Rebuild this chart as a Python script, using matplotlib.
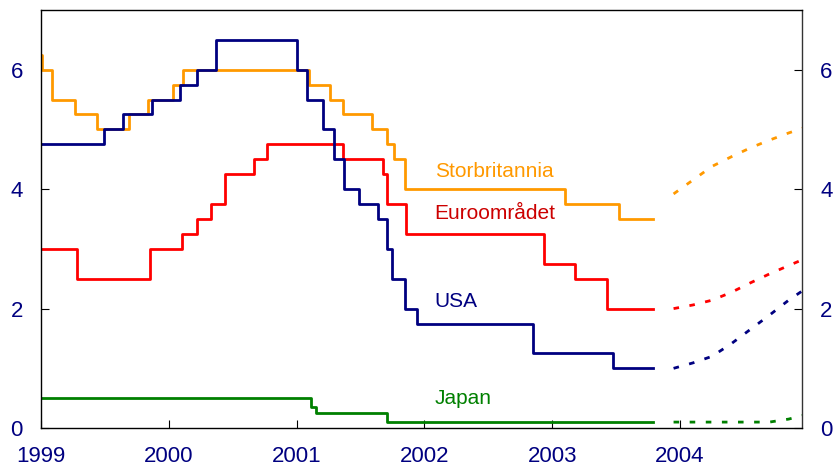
import matplotlib
matplotlib.use("Agg")
import matplotlib.pyplot as plt

# ---------------------------------------------------------------------------
# Data (decimal years, policy rates in percent)
# ---------------------------------------------------------------------------
usa_dates = [1999.0, 1999.49, 1999.64, 1999.87, 2000.09, 2000.22, 2000.37,
             2001.005, 2001.08, 2001.21, 2001.29, 2001.37, 2001.49, 2001.64,
             2001.71, 2001.75, 2001.85, 2001.94, 2002.85, 2003.48, 2003.79]
usa_rates = [4.75, 5.0, 5.25, 5.5, 5.75, 6.0, 6.5,
             6.0, 5.5, 5.0, 4.5, 4.0, 3.75, 3.5,
             3.0, 2.5, 2.0, 1.75, 1.25, 1.0, 1.0]

uk_dates = [1999.0, 1999.01, 1999.09, 1999.27, 1999.44, 1999.69, 1999.84,
            2000.03, 2000.11, 2001.10, 2001.26, 2001.36, 2001.59, 2001.71,
            2001.76, 2001.85, 2003.10, 2003.52, 2003.79]
uk_rates = [6.25, 6.0, 5.5, 5.25, 5.0, 5.25, 5.5,
            5.75, 6.0, 5.75, 5.5, 5.25, 5.0, 4.75,
            4.5, 4.0, 3.75, 3.5, 3.5]

euro_dates = [1999.0, 1999.28, 1999.85, 2000.10, 2000.22, 2000.33, 2000.44,
              2000.67, 2000.77, 2001.36, 2001.68, 2001.71, 2001.86, 2002.94,
              2003.18, 2003.43, 2003.79]
euro_rates = [3.0, 2.5, 3.0, 3.25, 3.5, 3.75, 4.25,
              4.5, 4.75, 4.5, 4.25, 3.75, 3.25, 2.75,
              2.5, 2.0, 2.0]

japan_dates = [1999.0, 2001.11, 2001.15, 2001.71, 2003.79]
japan_rates = [0.5, 0.35, 0.25, 0.1, 0.1]

# Market expectations (forward rates)
fwd_dates = [2003.95, 2004.10, 2004.25, 2004.40, 2004.55, 2004.70, 2004.85, 2004.96]
usa_fwd = [1.0, 1.09, 1.2, 1.41, 1.65, 1.89, 2.14, 2.3]
euro_fwd = [2.0, 2.06, 2.14, 2.27, 2.43, 2.58, 2.72, 2.82]
uk_fwd = [3.92, 4.15, 4.38, 4.54, 4.69, 4.82, 4.94, 5.02]
japan_fwd = [0.1, 0.1, 0.1, 0.1, 0.1, 0.1, 0.15, 0.21]

year_ticks = [1999, 2000, 2001, 2002, 2003, 2004]
rate_ticks = [0, 2, 4, 6]

NAVY = "#000080"
ORANGE = "#FF9900"
RED = "#FF0000"
GREEN = "#008000"

plt.rcParams["font.family"] = ["Liberation Sans", "DejaVu Sans"]

fig = plt.figure(figsize=(8.35, 4.73), dpi=100)
ax = fig.add_axes([0.049, 0.095, 0.9115, 0.884])

series = [
    (uk_dates, uk_rates, uk_fwd, ORANGE),
    (euro_dates, euro_rates, euro_fwd, RED),
    (usa_dates, usa_rates, usa_fwd, NAVY),
    (japan_dates, japan_rates, japan_fwd, GREEN),
]
for dates, rates, fwd, col in series:
    ax.plot(dates, rates, drawstyle="steps-post", color=col, lw=2.0)
    ax.plot(fwd_dates, fwd, color=col, lw=2.0, linestyle=(0, (2.0, 3.8)))

# Series labels
ax.text(2002.08, 4.3, "Storbritannia", color=ORANGE, fontsize=15, va="center")
ax.text(2002.08, 3.6, "Euroområdet", color="#CC0000", fontsize=15, va="center")
ax.text(2002.08, 2.12, "USA", color=NAVY, fontsize=15, va="center")
ax.text(2002.08, 0.5, "Japan", color=GREEN, fontsize=15, va="center")

ax.set_xlim(1999, 2004.955)
ax.set_ylim(0, 7)
ax.set_xticks(year_ticks)
ax.set_xticklabels([str(y) for y in year_ticks])
ax.set_yticks(rate_ticks)

ax.tick_params(axis="x", direction="in", length=6, width=0.8, pad=13,
               labelsize=16, labelcolor=NAVY)
ax.tick_params(axis="y", direction="in", length=6, width=0.8, pad=13,
               labelsize=16, labelcolor=NAVY, right=True, labelright=True)

for side in ["left", "bottom", "top"]:
    ax.spines[side].set_linewidth(1.0)
    ax.spines[side].set_color("black")
ax.spines["right"].set_linewidth(1.0)
ax.spines["right"].set_color("#333333")

fig.savefig("out.png", dpi=100)
